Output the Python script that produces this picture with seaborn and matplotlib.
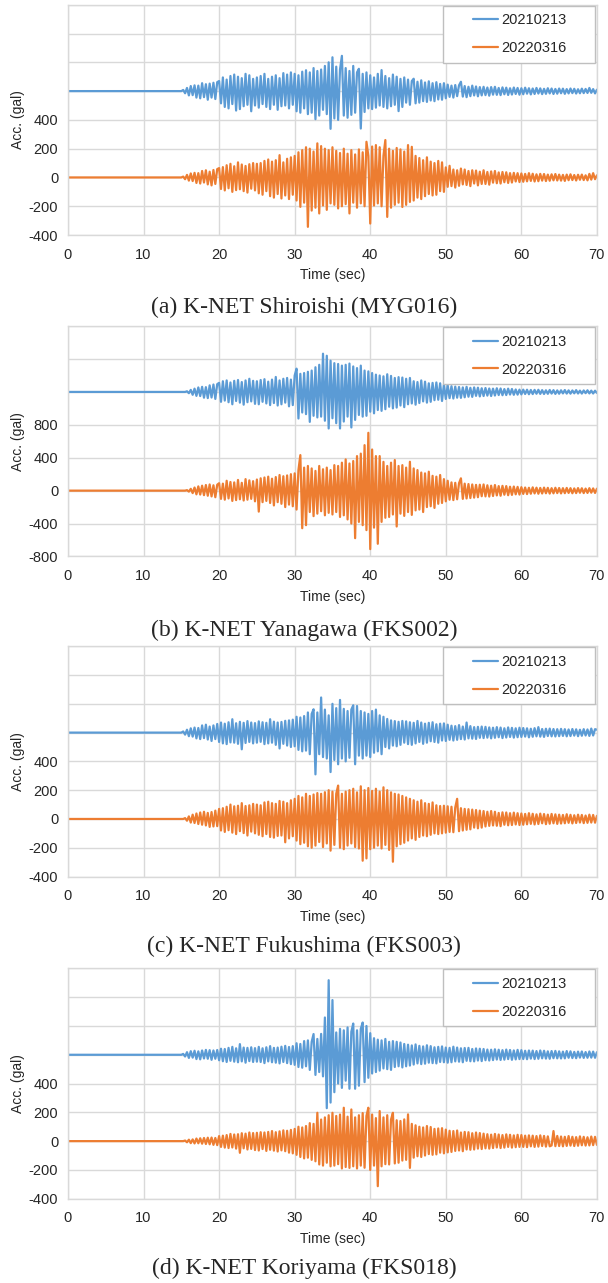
import numpy as np
import matplotlib
matplotlib.use("Agg")
import matplotlib.pyplot as plt
import seaborn as sns
from matplotlib.patches import Rectangle

# acceleration (gal), one value every 0.25 s from 15.0 s
# (the traces are flat at 0 before 15 s)
t_start = 15.0
dt = 0.25

shiroishi_2021 = [
    0, 8, -15, 22, -30, 35, -28, 40, -45, 38, -50, 55, -42, 48, -60, 52, -45, 58, -55, 62,
    70, -85, 95, -110, 80, -120, 105, -90, 115, -135, 100, -125, 90, -105, 120, -95, 110, -140, 85, -100,
    95, -115, 105, -90, 120, -110, 85, -125, 100, -95, 110, -130, 90, -105, 125, -100, 115, -120, 130, -95,
    120, -140, 110, -150, 135, -120, 145, -160, 130, -150, 160, -195, 140, -170, 150, -130, 175, -160, 200, -262,
    235, -190, 170, -200, 150, 245, -170, 160, -185, 140, -165, 175, -150, 130, 155, -260, 120, -145, 130, -120,
    110, -125, 95, -115, 120, -100, 146, -110, 105, -120, 90, -105, 115, -95, 100, -139, 85, -110, 95, -80,
    80, -95, 70, 86, -85, 65, -80, 75, -70, 60, -75, 68, -65, 55, -70, 62, -58, 50, -60, 55,
    -50, 45, -40, 38, -45, 42, -35, 40, 65, -38, 35, -42, 30, -35, 38, -30, 32, -36, 28, -30,
    30, -28, 25, -32, 28, -25, 30, -26, 22, -28, 26, -22, 24, -27, 20, -24, 25, -20, 22, -25,
    20, -22, 24, -18, 20, -23, 18, -20, 22, -17, 19, -21, 16, -19, 20, -16, 18, -20, 15, -18,
    18, -15, 17, -19, 14, -16, 18, -14, 16, -17, 13, -15, 17, -14, 15, -13, 22, -12, 14, -16,
    10]
shiroishi_2022 = [
    0, 6, -12, 18, -22, 28, -25, 32, -38, 30, -42, 45, -35, 50, -48, 40, -55, 52, -45, 58,
    65, -80, 72, -90, 85, -75, 95, -100, 78, -88, 105, -82, 90, -95, 80, -105, 92, -78, 100, -90,
    95, -110, 100, -120, 115, -95, 125, -130, 110, -140, 120, -115, 155, -146, 105, -125, 130, -150, 140, -120,
    150, -160, 175, -204, 190, -175, 210, -343, 200, -230, 180, -210, 237, -250, 218, -195, 200, -225, 190, -180,
    210, -190, 185, -215, 170, -200, 200, -185, 165, -250, 190, -175, 160, -210, 195, -180, 175, -200, 248, 150,
    -320, 215, -195, 225, -180, 210, -200, 150, 260, -274, 200, -210, 185, -190, 205, -175, 195, -205, 180, -190,
    225, -170, 213, -160, 150, -140, 135, -150, 120, -130, 140, -115, 110, -125, 100, -120, 115, -95, 105, -100,
    70, -65, 81, -60, 55, -70, 50, -58, 62, -48, 55, -52, 45, -60, 50, -42, 48, -55, 40, -45,
    50, -45, 38, -50, 42, -36, 45, -40, 35, -42, 38, -33, 36, -38, 30, -35, 32, -28, 30, -32,
    28, -30, 25, -27, 30, -24, 26, -28, 22, -26, 25, -22, 24, -25, 20, -23, 22, -20, 24, -21,
    20, -22, 18, -24, 20, -19, 22, -18, 17, -21, 19, -16, 20, -18, 15, -20, 25, -15, 30, -12,
    15]

yanagawa_2021 = [
    0, 0, 0, 8, -15, 25, -35, 40, -48, 55, -50, 62, -70, 58, -75, 80, -68, 90, -85, 95,
    110, -120, 130, -105, 140, -125, 115, -150, 135, -110, 145, -130, 120, -155, 140, -125, 160, -115, 135, -145,
    130, -150, 145, -120, 155, -140, 125, -160, 150, -135, 182, -165, 140, -150, 160, -130, 170, -175, 150, -160,
    200, 283, -323, 220, -250, 230, -270, 245, -364, 260, -290, 300, -310, 330, -300, 465, -350, 440, -444, 380,
    -320, 350, -380, 340, -444, 320, -360, 330, -300, 345, -432, 310, -340, 290, -280, 320, -300, 260, -290, 250,
    -240, 230, -260, 210, -220, 200, -230, 190, -210, 215, -180, 195, -200, 170, -190, 180, -165, 175, -185, 160,
    -150, 170, -140, 130, -155, 120, -135, 140, -115, 125, -130, 105, -120, 110, -100, 115, -95, 105, -110, 90,
    -85, 80, -75, 70, -80, 65, -70, 60, -72, 55, -65, 62, -58, 50, -60, 55, -48, 52, -55, 45,
    -50, 48, -45, 42, -50, 40, -44, 45, -38, 42, -40, 35, -38, 40, -32, 36, -35, 30, -33, 28,
    -30, 28, -25, 27, -28, 24, -26, 25, -22, 26, -24, 22, -25, 20, -23, 24, -20, 22, -24, 19,
    -22, 20, -18, 23, -20, 19, -21, 18, -17, 22, -19, 16, -20, 18, -15, 20, -18, 16, -19, 15,
    -12]
yanagawa_2022 = [
    0, 0, 0, 6, -12, 22, -30, 38, -45, 52, -48, 60, -55, 68, -62, 75, -70, 65, -80, 72,
    90, -100, 85, -110, 120, -95, 105, -125, 100, -115, 130, -105, 95, -120, 140, -110, 125, -100, 115, -130,
    135, -255, 150, -140, 160, -125, 170, -150, 145, -180, 165, -140, 190, -160, 175, -200, 185, -170, 200, -190,
    210, -230, 250, 432, -457, 280, -420, 300, -260, 270, -310, 240, -280, 300, -250, 260, -300, 280, -270, 250,
    -290, 310, -260, 300, -320, 340, -300, 380, -350, 330, -400, 360, -578, 420, -380, 450, -420, 553, -480, 703,
    -711, 500, -450, 420, -646, 420, -380, 350, -330, 300, -320, 340, -290, 372, -436, 300, -280, 310, -307, 280,
    -260, 351, -295, 270, -240, 250, -230, 220, -260, 210, -200, 230, -190, 180, -210, 170, -160, 190, -150, 140,
    -130, 120, -110, 100, -115, 95, -105, 90, 150, -100, 85, -95, 80, -90, 75, -85, 70, -80, 72, -68,
    75, -70, 65, -72, 60, -65, 68, -58, 55, -62, 58, -50, 55, -56, 48, -52, 50, -45, 46, -48,
    42, -40, 38, -42, 35, -38, 40, -34, 36, -38, 33, -35, 37, -32, 34, -36, 30, -33, 35, -30,
    32, -34, 30, -31, 33, -28, 30, -32, 27, -30, 31, -26, 29, -30, 25, -28, 30, -25, 27, -28,
    24]

fukushima_2021 = [
    0, 8, -14, 20, -25, 30, -28, 35, -40, 32, -45, 50, -38, 55, -48, 42, -58, 50, -45, 60,
    -65, 70, -75, 62, -80, 72, -68, 93, -70, 65, -78, 75, -116, 68, -72, 80, -65, 70, -75, 66,
    -70, 78, -64, 72, -80, 68, -75, 93, -70, 76, -85, 70, -110, 74, -78, 82, -90, 85, -100, 90,
    -95, 110, -120, 105, -130, 115, -125, 140, -150, 130, 162, -290, 140, -150, 244, -170, 160, -180, 120, -274,
    200, -190, 170, -220, 227, -180, 165, -200, 150, -175, 160, 190, -220, 185, -160, 150, -180, 140, -160, 130,
    -170, 150, -140, 160, -130, 120, -150, 110, -100, 95, -110, 85, -90, 80, -95, 75, -85, 81, -70, 78,
    -80, 72, -85, 68, -75, 81, -65, 70, -78, 62, -70, 68, -60, 72, -65, 58, -70, 62, -55, 64,
    -58, 55, -50, 48, -55, 45, -50, 52, -45, 42, -48, 70, -40, 45, -42, 38, -44, 40, -36, 42,
    -38, 40, -35, 36, -40, 34, -36, 38, -32, 35, -38, 30, -34, 36, -30, 33, -35, 30, -32, 34,
    -30, 32, -28, 30, -33, 27, -29, 31, -26, 38, -28, 25, -30, 27, -24, 28, -26, 25, -27, 24,
    -25, 26, -23, 24, -26, 22, -24, 25, -21, 23, -25, 20, -22, 24, -20, 22, -23, 28, -20, 24,
    20]
fukushima_2022 = [
    0, 0, 6, -12, 18, -25, 30, -28, 38, -35, 45, -40, 50, -45, 42, -55, 48, -52, 58, -50,
    70, -80, 75, -90, 85, -78, 100, -95, 88, -105, 92, -85, 110, -98, 90, -115, 95, -88, 105, -100,
    100, -110, 95, -120, 115, -105, 120, -125, 110, -130, 105, -118, 125, -115, 120, -162, 110, -135, 130, -120,
    140, -150, 160, -175, 150, -165, 175, -190, 160, -200, 170, -185, 180, -160, 175, -195, 186, -170, 200, -220,
    190, -180, 175, 232, -200, 175, -210, 190, -185, 200, -170, 210, -195, 185, -205, 227, -290, 200, -274, 215,
    -210, 195, -200, 210, -185, 190, -205, 220, -180, 200, -215, 185, -297, 175, -190, 170, -175, 160, -165, 150,
    -150, 140, -135, 130, -145, 120, -125, 130, -115, 110, -120, 105, -110, 115, -100, 95, -105, 90, -100, 92,
    -95, 88, -90, 85, -92, 80, 140, -85, 75, -80, 70, -75, 68, -72, 65, -60, 62, -65, 58, -60,
    55, -52, 50, -48, 55, -45, 50, -47, 42, -50, 46, -40, 45, -44, 40, -42, 44, -38, 40, -42,
    38, -40, 35, -37, 40, -34, 36, -38, 32, -35, 37, -30, 34, -36, 30, -33, 35, -30, 32, -34,
    30, -32, 28, -30, 33, -27, 29, -31, 26, -28, 30, -25, 28, -29, 24, -27, 30, -25, 28, -26,
    22]

koriyama_2021 = [
    0, 6, -12, 18, -22, 25, -20, 28, -30, 24, -32, 30, -26, 34, -28, 32, -35, 30, -28, 33,
    -38, 42, -45, 40, -50, 48, -42, 55, -48, 45, -52, 74, -46, 50, -55, 48, -44, 52, -50, 46,
    -48, 55, -50, 45, -58, 52, -46, 60, -52, 48, -55, 50, -60, 56, -50, 62, -58, 54, -65, 60,
    -70, 80, -85, 75, -90, 95, -80, 100, -105, 90, 144, -140, 110, -120, 145, -150, 259, -371, 518, -332,
    380, -260, 155, -200, 180, -230, 170, -180, 190, -236, 160, 217, -236, 170, -215, 180, 224, -190, 200, -160,
    150, -130, 115, -120, 105, -110, 100, -95, 110, -100, 90, -105, 95, -85, 90, -80, 85, -88, 75, -80,
    70, -75, 65, -68, 72, -60, 62, -65, 58, -62, 66, -55, 60, -58, 52, -60, 55, -50, 58, -52,
    50, -55, 48, -52, 56, -46, 50, -48, 45, -52, 47, -42, 48, -45, 40, -46, 44, -40, 42, -44,
    40, -38, 36, -40, 35, -37, 38, -33, 35, -36, 32, -34, 36, -30, 33, -35, 30, -32, 34, -30,
    32, -30, 28, -31, 30, -27, 29, -30, 26, -28, 30, -25, 28, -27, 24, -28, 26, -24, 27, -25,
    24, -26, 22, -25, 26, -21, 24, -23, 20, -24, 22, -20, 23, -22, 19, -21, 23, -20, 22, -21,
    18]
koriyama_2022 = [
    0, 0, 4, -8, 10, -14, 12, -16, 18, -15, 20, -18, 22, -20, 24, -22, 25, -26, 22, -28,
    35, -40, 38, -45, 42, -48, 50, -44, 46, -52, 48, -81, 55, -50, 52, -58, 60, -54, 56, -62,
    58, -65, 62, -55, 60, -68, 64, -60, 70, -66, 62, -72, 68, -64, 75, -70, 72, -80, 78, -85,
    85, -95, 100, -110, 95, -120, 105, -115, 125, -130, 120, -140, 197, -162, 150, -170, 165, -150, 180, -175,
    197, -170, 175, -160, 185, -190, 232, -180, 170, -186, 220, -175, 165, -190, 180, -170, 195, -185, 175, 232,
    -200, 185, -170, 160, -313, 209, -175, 165, -160, 180, -162, 150, 197, -155, 145, -150, 140, -135, 151, -130,
    186, -186, 120, -115, 110, -105, 100, -110, 95, -100, 105, -90, 98, -95, 85, -92, 88, -80, 90, -85,
    80, -78, 72, -75, 70, -68, 74, -65, 60, -70, 64, -58, 62, -60, 55, -58, 60, -52, 56, -55,
    52, -50, 48, -52, 45, -48, 50, -44, 46, -48, 42, -45, 47, -40, 44, -45, 40, -42, 44, -40,
    42, -40, 38, -42, 40, -36, 38, -40, 35, -38, 40, -34, 36, -38, 33, -36, -30, 70, -35, 36,
    -34, 32, -36, 30, -33, 35, -31, 30, -34, 28, -32, 33, -29, 30, -31, 27, -30, 32, -28, 30,
    -26]

series_labels = ["20210213", "20220316"]
captions = ["(a) K-NET Shiroishi (MYG016)", "(b) K-NET Yanagawa (FKS002)",
            "(c) K-NET Fukushima (FKS003)", "(d) K-NET Koriyama (FKS018)"]
records = [(shiroishi_2021, shiroishi_2022), (yanagawa_2021, yanagawa_2022),
           (fukushima_2021, fukushima_2022), (koriyama_2021, koriyama_2022)]

# per panel: offset of the 2021 trace, y range, tick step, highest labelled tick
panel_cfg = [(600, -400, 1200, 200, 400),
             (1200, -800, 2000, 400, 800),
             (600, -400, 1200, 200, 400),
             (600, -400, 1200, 200, 400)]
axes_bottom = [0.8168, 0.5663, 0.3168, 0.0657]
caption_y = [0.760, 0.509, 0.2627, 0.0117]

blue = "#5B9BD5"
orange = "#ED7D31"
grid_c = "#D9D9D9"

sns.set_style("white")
plt.rcParams["font.family"] = ["Liberation Sans", "DejaVu Sans"]

fig = plt.figure(figsize=(6.08, 12.83), dpi=100)

for i in range(4):
    ax = fig.add_axes([0.1118, axes_bottom[i], 0.870, 0.1795])
    offset, ymin, ymax, step, lab_max = panel_cfg[i]
    for vals, col, lab, off in zip(records[i], [blue, orange], series_labels, [offset, 0]):
        y = np.concatenate([[0.0], np.array(vals, dtype=float)]) + off
        t = np.concatenate([[0.0], t_start + dt * np.arange(len(vals))])
        sns.lineplot(x=t, y=y, ax=ax, color=col, linewidth=1.6,
                     estimator=None, legend=False)
    ax.set_xlim(0, 70)
    ax.set_ylim(ymin, ymax)
    ax.set_xticks(range(0, 71, 10))
    yt = list(range(ymin, ymax + 1, step))
    ax.set_yticks(yt)
    ax.set_yticklabels([str(v) if v <= lab_max else "" for v in yt])
    ax.grid(True, color=grid_c, linewidth=1.0)
    ax.set_axisbelow(True)
    for s in ax.spines.values():
        s.set_color(grid_c)
        s.set_linewidth(1.0)
    ax.tick_params(axis="y", length=4, color=grid_c, width=1, pad=3, labelsize=10.5)
    ax.tick_params(axis="x", length=0, pad=9, labelsize=10.5)
    ax.set_xlabel("Time (sec)", fontsize=10, labelpad=5)
    ax.set_ylabel("Acc. (gal)", fontsize=10, labelpad=3)

    ax.add_patch(Rectangle((0.709, 0.748), 0.287, 0.248, transform=ax.transAxes,
                           facecolor="white", edgecolor="#BFBFBF", linewidth=1.0,
                           zorder=4, clip_on=False))
    leg = ax.legend(ax.lines[:2], series_labels, loc="upper left",
                    bbox_to_anchor=(0.7656, 0.963), frameon=False,
                    handlelength=1.75, handletextpad=0.2, labelspacing=0.95,
                    borderpad=0, borderaxespad=0, fontsize=10.5)
    leg.set_zorder(5)

    fig.text(0.5, caption_y[i], captions[i], ha="center", va="center",
             fontsize=17, family=["Liberation Serif", "DejaVu Serif"])

fig.savefig("out.png", dpi=100)
